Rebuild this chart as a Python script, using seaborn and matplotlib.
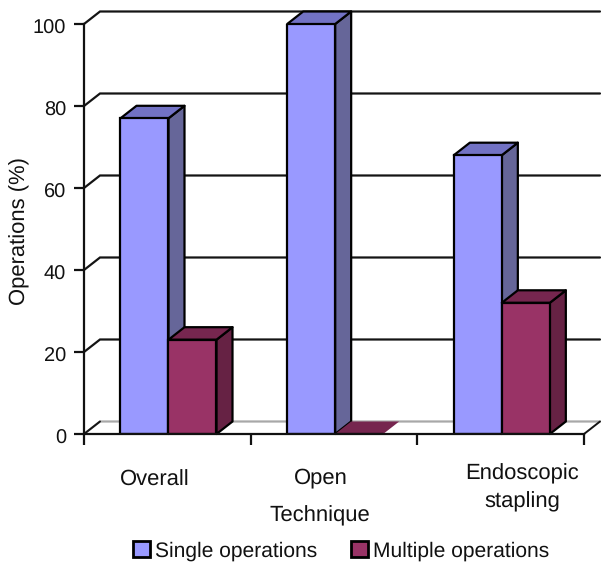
import matplotlib
matplotlib.use("Agg")
import matplotlib.pyplot as plt
from matplotlib.patches import Polygon, Patch
from matplotlib.transforms import ScaledTranslation
import pandas as pd
import seaborn as sns

categories = ["Overall", "Open", "Endoscopic\nstapling"]
single_ops = [77, 100, 68]
multiple_ops = [23, 0, 32]
series_names = ["Single operations", "Multiple operations"]
y_ticks = [0, 20, 40, 60, 80, 100]

FRONT = {"single": "#9999FF", "multiple": "#993366"}
SIDE = {"single": "#666699", "multiple": "#662244"}
TOP = {"single": "#7272C4", "multiple": "#76264F"}
DX, DY = 0.096, 3.05  # oblique depth of the pseudo-3D bars, in data units
X0 = -0.507           # left edge of the category axis
LABEL_PT = 15.9
LEGEND_PT = 15.4

sns.set_theme(style="white")
plt.rcParams["font.family"] = ["Liberation Sans", "DejaVu Sans"]
plt.rcParams["font.size"] = LABEL_PT
plt.rcParams["text.hinting"] = "none"
plt.rcParams["text.hinting_factor"] = 1

W, H = 601, 563
fig = plt.figure(figsize=(W / 100, H / 100), dpi=100, facecolor="white")
ax = fig.add_axes([84 / W, 1 - 434 / H, 500 / W, 410 / H])

df = pd.DataFrame({
    "Technique": categories * 2,
    "Operations": single_ops + multiple_ops,
    "Series": [series_names[0]] * 3 + [series_names[1]] * 3,
})
sns.barplot(
    data=df, x="Technique", y="Operations", hue="Series", ax=ax,
    palette=[FRONT["single"], FRONT["multiple"]], width=0.576, gap=0,
    edgecolor="black", linewidth=1.6, saturation=1, legend=False,
)
ax.set_xlim(X0, X0 + 3)
ax.set_ylim(0, 100)

# Back wall gridlines with their diagonal return to the left wall
for v in y_ticks:
    colour = "#a8a8a8" if v == 0 else "#141414"
    ax.plot([X0, X0 + DX, X0 + 3 + DX], [v, v + DY, v + DY], color=colour,
            lw=1.6, clip_on=False, zorder=1, solid_joinstyle="miter")
ax.plot([X0, X0 + DX], [0, DY], color="#141414", lw=1.4, zorder=1.1, clip_on=False)
ax.plot([X0 + 3, X0 + 3 + DX], [0, DY], color="#141414", lw=1.4, zorder=1.1, clip_on=False)

# Extrude each bar: side and top faces come from the bar's own geometry
keys = ["single"] * 3 + ["multiple"] * 3
for bar, key in zip(ax.patches[:6], keys):
    x0, w, h = bar.get_x(), bar.get_width(), bar.get_height()
    x1 = x0 + w
    base = 2 if key == "single" else 4
    bar.set_zorder(base + 1)
    if h > 0:
        ax.add_patch(Polygon([(x1, 0), (x1 + DX, DY), (x1 + DX, h + DY), (x1, h)],
                             fc=SIDE[key], ec="black", lw=1.6, zorder=base,
                             clip_on=False, joinstyle="round"))
    ax.add_patch(Polygon([(x0, h), (x0 + DX, h + DY), (x1 + DX, h + DY), (x1, h)],
                         fc=TOP[key], ec="black" if h > 0 else "none", lw=1.6,
                         zorder=base, clip_on=False, joinstyle="round"))

# Axes frame and ticks
for side in ("top", "right"):
    ax.spines[side].set_visible(False)
for side in ("left", "bottom"):
    ax.spines[side].set_linewidth(1.6)
    ax.spines[side].set_color("#111111")
    ax.spines[side].set_zorder(6)
ax.set_yticks(y_ticks)
ax.set_xticks([X0 + k for k in range(4)])
ax.set_xticklabels([])
ax.tick_params(axis="both", which="major", direction="out", width=1.6,
               color="#111111", left=True, bottom=True, labelcolor="#111111")
ax.tick_params(axis="y", length=7.2, pad=5.8, labelsize=14.6)
ax.tick_params(axis="x", length=8)

# The value labels sit slightly below their tick marks
label_shift = ScaledTranslation(0, -3 / 100, fig.dpi_scale_trans)
for label in ax.get_yticklabels():
    label.set_transform(label.get_transform() + label_shift)

# Category names sit off-centre under their slots
label_offsets = [(-14, -46), (-14, -44), (20, -54)]
for i, (name, (ox, oy)) in enumerate(zip(categories, label_offsets)):
    ax.annotate(name, xy=(i, 0), xytext=(ox * 0.72, oy * 0.72),
                textcoords="offset points", ha="center", va="center",
                fontsize=LABEL_PT, color="#111111", linespacing=1.45,
                annotation_clip=False)

ax.set_xlabel("")
ax.set_ylabel("")
fig.text(320 / W, 1 - 516 / H, "Technique", ha="center", va="center",
         fontsize=LABEL_PT, color="#111111")
fig.text(20 / W, 1 - 231 / H, "Operations (%)", rotation=90, ha="center", va="center",
         fontsize=LABEL_PT, color="#111111")

handles = [Patch(fc=FRONT["single"], ec="black", lw=2),
           Patch(fc=FRONT["multiple"], ec="black", lw=2)]
fig.legend(handles, series_names, ncol=2, frameon=False, loc="center",
           bbox_to_anchor=(341 / W, 1 - 551 / H), fontsize=LEGEND_PT,
           handlelength=0.8, handleheight=0.8, handletextpad=0.25,
           columnspacing=1.55, labelcolor="#111111")

fig.savefig("out.png", dpi=100, facecolor="white")
